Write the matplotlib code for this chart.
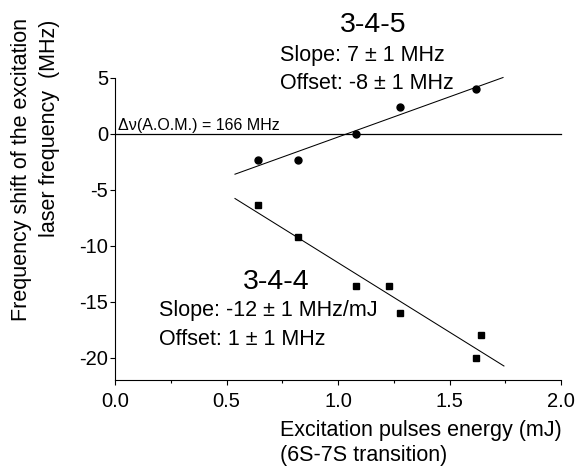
import matplotlib
matplotlib.use("Agg")
import matplotlib.pyplot as plt

plt.rcParams['font.family'] = ['Liberation Sans', 'DejaVu Sans']

# Data
energy_345 = [0.64, 0.82, 1.08, 1.28, 1.62]
shift_345 = [-2.4, -2.4, 0.0, 2.4, 4.0]
energy_344 = [0.64, 0.82, 1.08, 1.23, 1.28, 1.62, 1.64]
shift_344 = [-6.4, -9.2, -13.6, -13.6, -16.0, -20.0, -18.0]

fit_345_x = [0.538, 1.74]
fit_345_y = [-3.63, 5.0]
fit_344_x = [0.538, 1.744]
fit_344_y = [-5.8, -20.75]

aom_x = [0.0, 2.0]
aom_y = [0.0, 0.0]

xticks = [0.0, 0.5, 1.0, 1.5, 2.0]
xtick_labels = ["0.0", "0.5", "1.0", "1.5", "2.0"]
yticks = [5, 0, -5, -10, -15, -20]
ytick_labels = ["5", "0", "-5", "-10", "-15", "-20"]

TXT = 15.5
BIG = 20.5
TICK = 14.5

fig = plt.figure(figsize=(5.77, 4.75), dpi=100)
ax = fig.add_axes([0.1993, 0.2, 0.9723 - 0.1993, 0.8368 - 0.2])

ax.plot(aom_x, aom_y, color='black', lw=0.9, clip_on=False)
ax.plot(fit_345_x, fit_345_y, color='black', lw=0.75, clip_on=False)
ax.plot(fit_344_x, fit_344_y, color='black', lw=0.75, clip_on=False)
ax.plot(energy_345, shift_345, 'o', color='black', ms=5, clip_on=False)
ax.plot(energy_344, shift_344, 's', color='black', ms=4.5, clip_on=False)

ax.set_xlim(0, 2.0)
ax.set_ylim(-22, 5)
ax.spines['top'].set_visible(False)
ax.spines['right'].set_visible(False)
for s in ['left', 'bottom']:
    ax.spines[s].set_linewidth(0.8)

ax.set_xticks(xticks)
ax.set_xticklabels(xtick_labels)
ax.set_xticks([0.25, 0.75, 1.25, 1.75], minor=True)
ax.set_yticks(yticks)
ax.set_yticklabels(ytick_labels)
ax.tick_params(axis='x', which='major', direction='out', length=3.6, width=0.8,
               labelsize=TICK, pad=5)
ax.tick_params(axis='x', which='minor', direction='out', length=2.5, width=0.8)
ax.tick_params(axis='y', which='major', direction='out', length=3.6, width=0.8,
               labelsize=TICK, pad=1.5)

# Annotations
ax.text(0.014, 0.29, "Δν(A.O.M.) = 166 MHz", fontsize=11.5, ha='left', va='baseline')
ax.text(1.16, 9.06, "3-4-5", fontsize=BIG, ha='center', va='baseline', clip_on=False)
ax.text(0.74, 6.45, "Slope: 7 ± 1 MHz", fontsize=TXT, ha='left', va='baseline', clip_on=False)
ax.text(0.74, 3.95, "Offset: -8 ± 1 MHz", fontsize=TXT, ha='left', va='baseline')
ax.text(0.721, -13.9, "3-4-4", fontsize=BIG, ha='center', va='baseline')
ax.text(0.197, -16.3, "Slope: -12 ± 1 MHz/mJ", fontsize=TXT, ha='left', va='baseline')
ax.text(0.197, -18.85, "Offset: 1 ± 1 MHz", fontsize=TXT, ha='left', va='baseline')

# Axis labels
fig.text(280 / 577, 1 - 436 / 475, "Excitation pulses energy (mJ)", fontsize=TXT,
         ha='left', va='baseline')
fig.text(280 / 577, 1 - 461.5 / 475, "(6S-7S transition)", fontsize=TXT,
         ha='left', va='baseline')
fig.text(21.7 / 577, 1 - 18 / 475, "Frequency shift of the excitation", fontsize=TXT,
         rotation=90, ha='center', va='top')
fig.text(50 / 577, 1 - 19.5 / 475, "laser frequency  (MHz)", fontsize=TXT,
         rotation=90, ha='center', va='top')

fig.savefig("out.png", dpi=100)
